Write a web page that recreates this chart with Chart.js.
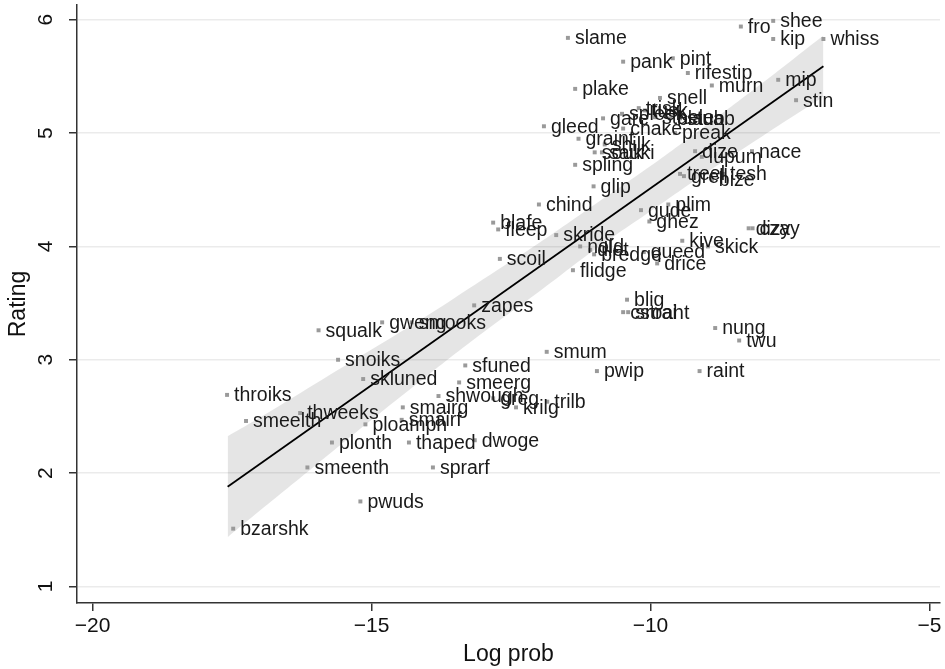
<!DOCTYPE html>
<html>
<head>
  <meta charset="UTF-8">
  <title>Rating vs Log prob</title>
  <script src="https://cdn.jsdelivr.net/npm/chart.js"></script>
  <style>
    body { margin: 0; background: white; }
    canvas { display: block; }
  </style>
</head>
<body>
  <canvas id="ratingChart" width="945" height="669"></canvas>

  <script>
    const words = ['slame','fro','shee','kip','whiss','pank','pint','rifestip','murn','mip','stin','plake','snell',
      'trisk','tusk','spleek','gare','staele','blaub','stuab','gleed','chake','preak','graint','shilk','souk','sauki',
      'dize','lupum','nace','spling','treel','grell','tesh','bize','glip','chind','plim','gude','ghez','blafe','fleep',
      'dizy','czay','skride','kive','skick','nold','dlet','bredge','queed','scoil','drice','flidge','blig','cstrai',
      'sroaht','zapes','gweng','smooks','squalk','nung','twu','smum','snoiks','sfuned','pwip','raint','skluned',
      'smeerg','throiks','shwough','greg','trilb','krilg','smairg','thweeks','smeelth','smairf','ploamph','dwoge',
      'plonth','thaped','smeenth','sprarf','pwuds','bzarshk'];
    const logProb = [-11.48,-8.38,-7.8,-7.8,-6.9,-10.49,-9.6,-9.33,-8.9,-7.71,-7.39,-11.35,-9.83,
      -10.21,-10.1,-10.51,-10.85,-9.92,-9.65,-9.47,-11.91,-10.49,-9.56,-11.29,-10.82,-11.0,-10.87,
      -9.2,-9.08,-8.18,-11.35,-9.47,-9.4,-8.7,-8.9,-11.02,-12.0,-9.68,-10.17,-10.02,-12.82,-12.73,
      -8.24,-8.17,-11.69,-9.43,-8.97,-11.26,-11.08,-11.01,-10.12,-12.7,-9.88,-11.39,-10.42,-10.49,
      -10.4,-13.16,-14.81,-14.28,-15.95,-8.84,-8.41,-11.86,-15.6,-13.32,-10.96,-9.12,-15.15,
      -13.43,-17.59,-13.8,-12.82,-11.85,-12.41,-14.44,-16.28,-17.25,-14.46,-15.11,-13.15,
      -15.71,-14.33,-16.15,-13.9,-15.2,-17.48];
    const rating = [5.84,5.94,5.99,5.83,5.83,5.63,5.66,5.53,5.42,5.47,5.29,5.39,5.31,
      5.22,5.2,5.17,5.13,5.14,5.13,5.13,5.06,5.04,5.0,4.95,4.9,4.83,4.83,
      4.84,4.79,4.84,4.72,4.64,4.62,4.64,4.59,4.53,4.37,4.37,4.32,4.22,4.21,4.15,
      4.16,4.16,4.1,4.05,4.0,4.0,3.97,3.93,3.95,3.89,3.85,3.79,3.53,3.42,
      3.42,3.48,3.33,3.33,3.26,3.28,3.17,3.07,3.0,2.95,2.9,2.9,2.83,
      2.8,2.69,2.68,2.66,2.63,2.58,2.58,2.53,2.46,2.47,2.43,2.29,
      2.27,2.27,2.05,2.05,1.75,1.51];

    // fitted line and its confidence band
    const fitX = [-17.58, -6.9];
    const fitY = [1.88, 5.59];
    const bandX = [-17.58, -17, -16, -15, -14, -13, -12, -11, -10, -9, -8, -7.5, -6.9];
    const bandUpper = [2.325, 2.49, 2.79, 3.09, 3.39, 3.71, 4.03, 4.37, 4.71, 5.07, 5.44, 5.63, 5.86];
    const bandLower = [1.435, 1.67, 2.07, 2.47, 2.86, 3.24, 3.60, 3.97, 4.31, 4.65, 4.97, 5.13, 5.32];

    const xTicks = [-20, -15, -10, -5];
    const yTicks = [1, 2, 3, 4, 5, 6];

    const FONT = '"Liberation Sans", Arial, sans-serif';
    const pts = (xs, ys) => xs.map((x, i) => ({ x: x, y: ys[i] }));

    const labelPlugin = {
      id: 'labels',
      afterDatasetsDraw(chart) {
        const ctx = chart.ctx;
        const meta = chart.getDatasetMeta(3);
        ctx.save();
        ctx.font = '19.5px ' + FONT;
        ctx.fillStyle = '#1a1a1a';
        ctx.textAlign = 'left';
        ctx.textBaseline = 'middle';
        meta.data.forEach((p, i) => ctx.fillText(words[i], p.x + 7, p.y + 1));
        ctx.restore();
      },
      afterDraw(chart) {
        const ctx = chart.ctx;
        const ys = chart.scales.y;
        const xs = chart.scales.x;
        ctx.save();
        ctx.fillStyle = '#111';
        ctx.font = '21px ' + FONT;
        ctx.textAlign = 'center';
        ctx.textBaseline = 'middle';
        yTicks.forEach(v => {
          ctx.save();
          ctx.translate(46, ys.getPixelForValue(v));
          ctx.rotate(-Math.PI / 2);
          ctx.fillText(String(v), 0, 0);
          ctx.restore();
        });
        ctx.font = '23px ' + FONT;
        ctx.save();
        ctx.translate(19, (ys.top + ys.bottom) / 2);
        ctx.rotate(-Math.PI / 2);
        ctx.fillText('Rating', 0, 0);
        ctx.restore();
        ctx.fillText('Log prob', (xs.left + xs.right) / 2, 655);
        ctx.restore();
      }
    };

    new Chart(document.getElementById('ratingChart'), {
      type: 'line',
      data: {
        datasets: [
          {
            data: pts(bandX, bandUpper),
            borderWidth: 0,
            pointRadius: 0,
            tension: 0.4,
            backgroundColor: 'rgba(0,0,0,0.1)',
            fill: '+1',
            order: 3
          },
          {
            data: pts(bandX, bandLower),
            borderWidth: 0,
            pointRadius: 0,
            tension: 0.4,
            fill: false,
            order: 4
          },
          {
            data: pts(fitX, fitY),
            borderColor: '#000',
            borderWidth: 1.8,
            pointRadius: 0,
            fill: false,
            order: 2
          },
          {
            data: pts(logProb, rating),
            showLine: false,
            pointStyle: 'rect',
            pointRadius: 2.8,
            backgroundColor: '#9a9a9a',
            pointBorderWidth: 0,
            order: 1
          }
        ]
      },
      options: {
        responsive: false,
        animation: false,
        layout: { padding: { top: 5, right: 5 } },
        plugins: {
          legend: { display: false },
          tooltip: { enabled: false }
        },
        scales: {
          x: {
            type: 'linear',
            min: -20.28,
            max: -4.81,
            afterBuildTicks: s => { s.ticks = xTicks.map(v => ({ value: v })); },
            afterFit: s => { s.height = 66; },
            ticks: {
              font: { size: 21, family: FONT },
              color: '#111',
              padding: 3,
              maxRotation: 0,
              callback: v => String(v).replace('-', '\u2212')
            },
            grid: { drawOnChartArea: false, tickColor: '#333', tickLength: 8, lineWidth: 1.5 },
            border: { color: '#333', width: 1.5 }
          },
          y: {
            type: 'linear',
            min: 0.854,
            max: 6.13,
            afterBuildTicks: s => { s.ticks = yTicks.map(v => ({ value: v })); },
            afterFit: s => { s.width = 77; },
            ticks: { display: false },
            grid: { color: '#ebebeb', lineWidth: 1.5, tickColor: '#333', tickLength: 8 },
            border: { color: '#333', width: 1.5 }
          }
        }
      },
      plugins: [labelPlugin]
    });
  </script>
</body>
</html>
